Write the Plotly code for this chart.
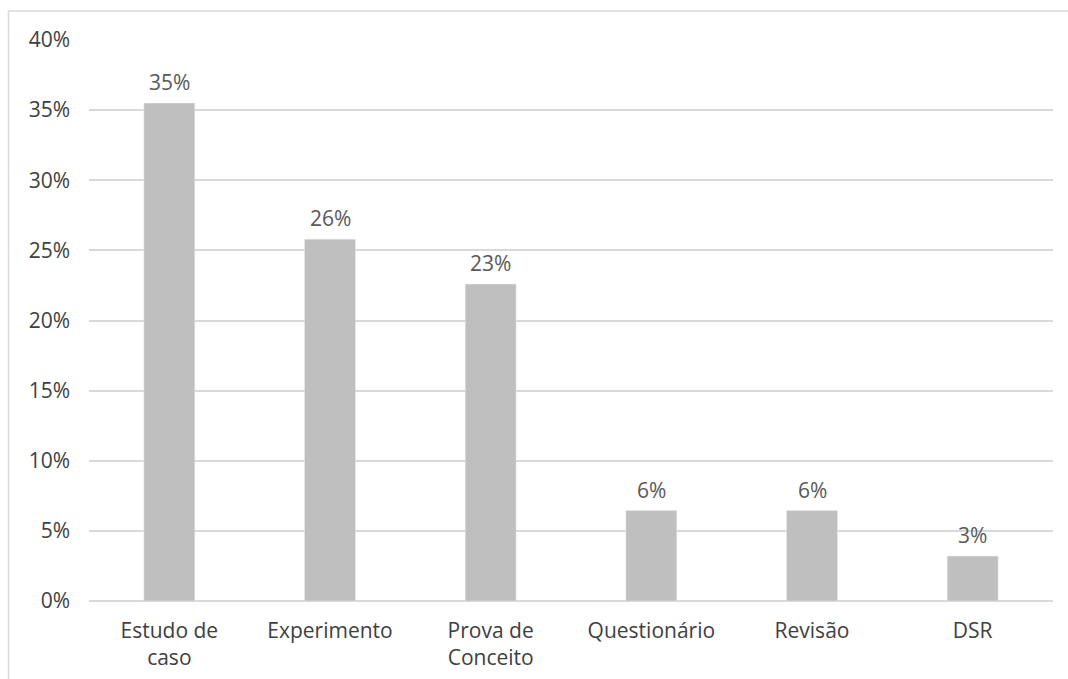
import plotly.graph_objects as go

categories = ["Estudo de<br>caso", "Experimento", "Prova de<br>Conceito", "Questionário", "Revisão", "DSR"]
values = [0.355, 0.258, 0.226, 0.0645, 0.0645, 0.032]
labels = ["35%", "26%", "23%", "6%", "6%", "3%"]
ytick_vals = [0, 0.05, 0.10, 0.15, 0.20, 0.25, 0.30, 0.35, 0.40]
ytick_text = ["0%", "5%", "10%", "15%", "20%", "25%", "30%", "35%", "40%"]

FONT = "Open Sans"
FS = 21

fig = go.Figure(go.Bar(x=categories, y=values, marker_color="#BFBFBF", width=0.317,
                       hoverinfo="skip"))

for c, v, t in zip(categories, values, labels):
    fig.add_annotation(x=c, y=v, text=t, showarrow=False, yanchor="bottom", yshift=5,
                       font=dict(family=FONT, size=FS, color="#595959"))

fig.add_shape(type="rect", xref="paper", yref="paper", x0=-0.0835, x1=1.2, y0=-0.3, y1=1.0516,
              line=dict(color="#D9D9D9", width=1.5), fillcolor="rgba(0,0,0,0)", layer="below")

fig.update_layout(
    width=1068, height=679,
    margin=dict(l=89, r=15, t=39.5, b=77.5),
    paper_bgcolor="white", plot_bgcolor="white",
    showlegend=False,
    bargap=0.683,
    font=dict(family=FONT, size=FS, color="#404040"),
    xaxis=dict(showgrid=False, showline=False, ticks="", ticklabelstandoff=15, automargin=False,
               tickfont=dict(family=FONT, size=FS, color="#404040")),
    yaxis=dict(range=[0, 0.4], tickvals=ytick_vals, ticktext=ytick_text, automargin=False,
               showgrid=True, gridcolor="#D9D9D9", gridwidth=1.5,
               zeroline=True, zerolinecolor="#D9D9D9", zerolinewidth=1.5,
               showline=False, ticks="", ticklabelstandoff=18,
               tickfont=dict(family=FONT, size=FS, color="#404040")),
)

fig.write_html("out.html")
